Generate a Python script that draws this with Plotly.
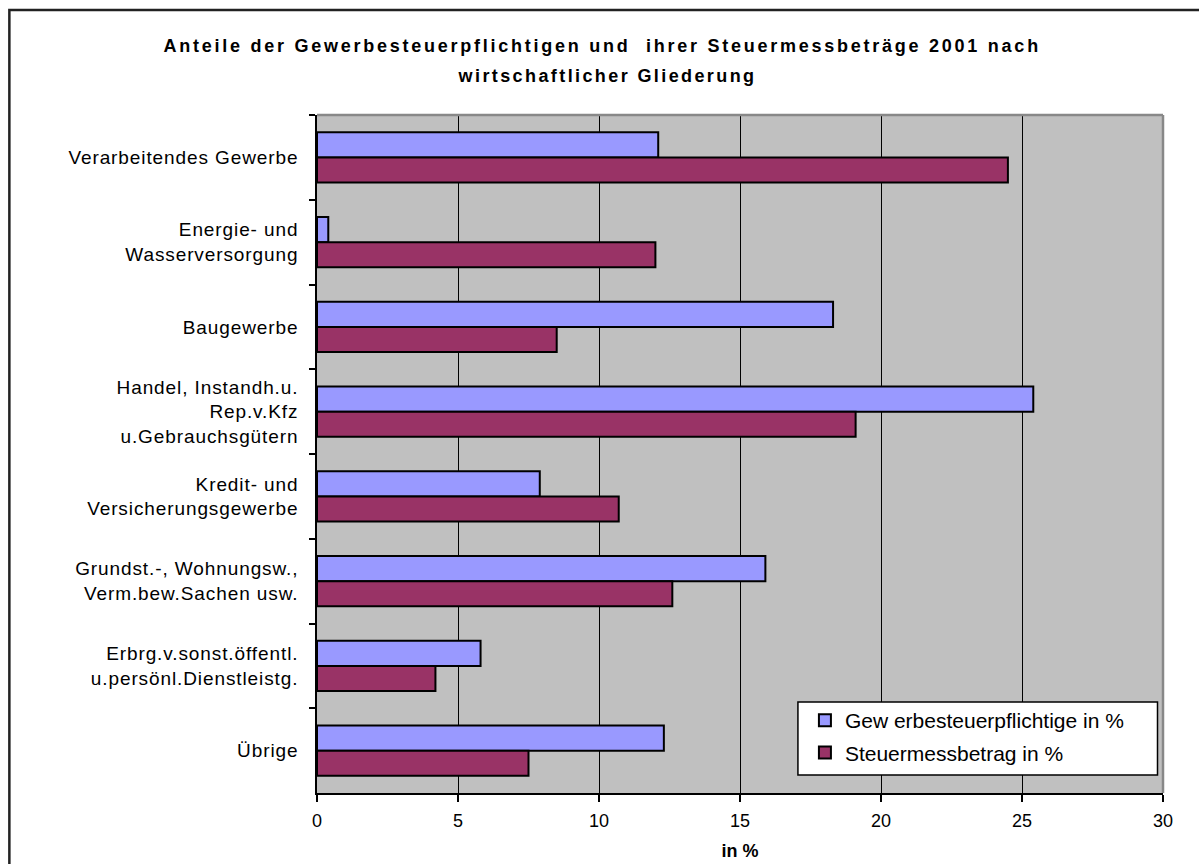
import plotly.graph_objects as go

categories = [
    "Verarbeitendes Gewerbe",
    "Energie- und<br>Wasserversorgung",
    "Baugewerbe",
    "Handel, Instandh.u.<br>Rep.v.Kfz<br>u.Gebrauchsgütern",
    "Kredit- und<br>Versicherungsgewerbe",
    "Grundst.-, Wohnungsw.,<br>Verm.bew.Sachen usw.",
    "Erbrg.v.sonst.öffentl.<br>u.persönl.Dienstleistg.",
    "Übrige",
]
gewerbesteuerpflichtige = [12.1, 0.4, 18.3, 25.4, 7.9, 15.9, 5.8, 12.3]
steuermessbetrag = [24.5, 12.0, 8.5, 19.1, 10.7, 12.6, 4.2, 7.5]
series_names = ["Gew erbesteuerpflichtige in %", "Steuermessbetrag in %"]
x_ticks = [0, 5, 10, 15, 20, 25, 30]
title_line1 = "Anteile der Gewerbesteuerpflichtigen und  ihrer Steuermessbeträge 2001 nach"
title_line2 = "wirtschaftlicher Gliederung"

W, H = 1199, 864
L, R, T, B = 316.5, 1163.5, 115, 793
FONT = "Liberation Sans, Arial, sans-serif"

fig = go.Figure()
fig.add_trace(go.Bar(
    y=categories, x=gewerbesteuerpflichtige, orientation="h",
    name=series_names[0], legendgroup="a",
    marker=dict(color="#9999FF", line=dict(color="black", width=2)),
))
fig.add_trace(go.Bar(
    y=categories, x=steuermessbetrag, orientation="h",
    name=series_names[1], legendgroup="b",
    marker=dict(color="#993366", line=dict(color="black", width=2)),
))

def px_x(p):
    return (p - L) / (R - L)

def px_y(p):
    return (B - p) / (B - T)

fig.update_layout(
    width=W, height=H,
    margin=dict(l=L, r=W - R, t=T, b=H - B, autoexpand=False),
    paper_bgcolor="white",
    plot_bgcolor="#C0C0C0",
    barmode="group",
    bargap=0.41,
    bargroupgap=0,
    font=dict(family=FONT, size=18, color="black"),
    title=dict(
        text="<b>" + title_line1 + "</b>",
        x=px_x(602), xref="paper", xanchor="center",
        y=1 - 46 / H, yanchor="middle",
        font=dict(size=18, family=FONT),
    ),
    annotations=[
        dict(text="<b>" + title_line2 + "</b>", xref="paper", yref="paper",
             x=px_x(607), y=px_y(76), xanchor="center", yanchor="middle",
             showarrow=False, font=dict(size=18, family=FONT)),
    ],
    showlegend=True,
    legend=dict(
        x=px_x(805), y=px_y(700), xanchor="left", yanchor="top",
        bgcolor="rgba(0,0,0,0)", borderwidth=0,
        font=dict(size=21),
        itemwidth=30,
        traceorder="grouped",
        tracegroupgap=2,
    ),
    xaxis=dict(
        range=[0, 30], tickvals=x_ticks, ticktext=[str(v) for v in x_ticks],
        showgrid=True, gridcolor="black", gridwidth=1.2,
        zeroline=False,
        showline=True, linecolor="black", linewidth=1.5,
        ticks="outside", ticklen=7, tickcolor="black", tickwidth=1.5,
        tickfont=dict(size=18),
        ticklabelstandoff=4,
        title=dict(text="<b>in %</b>", font=dict(size=18), standoff=14),
    ),
    yaxis=dict(
        autorange="reversed",
        showgrid=False,
        showline=True, linecolor="black", linewidth=1.5,
        ticks="outside", ticklen=6, tickcolor="black", tickwidth=1.5,
        tickson="boundaries",
        tickfont=dict(size=19),
        ticklabelstandoff=13,
    ),
    shapes=[
        # outer figure frame
        dict(type="rect", xref="paper", yref="paper",
             x0=px_x(8.5), y0=px_y(900), x1=px_x(1230), y1=px_y(10),
             line=dict(color="#222222", width=2.5), fillcolor="rgba(0,0,0,0)", layer="above"),
        # gray frame on top and right of plot area
        dict(type="line", xref="paper", yref="paper", x0=0, x1=1, y0=1, y1=1,
             line=dict(color="#888888", width=2.5), layer="above"),
        dict(type="line", xref="paper", yref="paper", x0=1, x1=1, y0=0, y1=1,
             line=dict(color="#888888", width=2.5), layer="above"),
        # legend box
        dict(type="rect", xref="paper", yref="paper",
             x0=px_x(798), x1=px_x(1158), y0=px_y(775), y1=px_y(702),
             line=dict(color="black", width=1.5), fillcolor="white", layer="above"),
    ],
)

post = """
var gd = document.getElementsByClassName('plotly-graph-div')[0];
function spaceText(){
  gd.querySelectorAll('.gtitle').forEach(function(el){ el.style.letterSpacing = '2.75px'; });
  gd.querySelectorAll('.annotation-text').forEach(function(el){ el.style.letterSpacing = '2.4px'; });
  gd.querySelectorAll('.ytick text').forEach(function(el){ el.style.letterSpacing = '0.9px'; });
}
spaceText();
gd.on('plotly_afterplot', spaceText);
"""

fig.write_html("out.html", post_script=post)
